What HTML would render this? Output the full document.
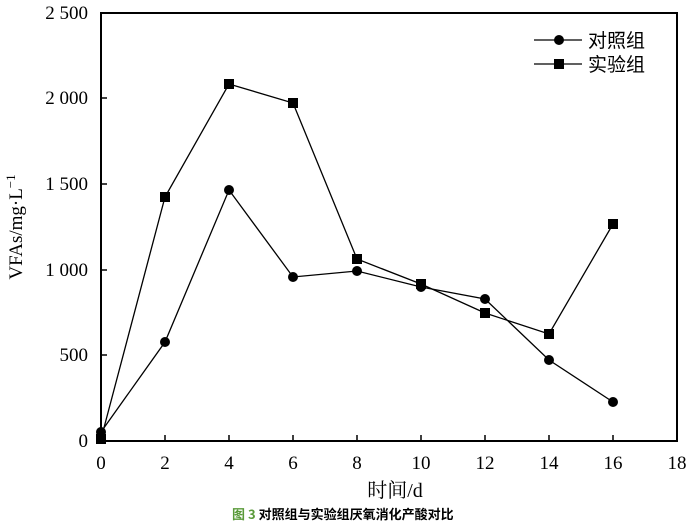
<!DOCTYPE html>
<html><head><meta charset="utf-8"><style>body{margin:0;background:#fff}</style></head><body>
<svg width="698" height="524" xmlns="http://www.w3.org/2000/svg" font-family="Liberation Serif, Noto Serif CJK SC, serif">
<rect x="101" y="13" width="576" height="428" fill="none" stroke="#000" stroke-width="2"/>
<g stroke="#000" stroke-width="1.5">
<line x1="165" y1="441" x2="165" y2="435"/><line x1="229" y1="441" x2="229" y2="435"/><line x1="293" y1="441" x2="293" y2="435"/><line x1="357" y1="441" x2="357" y2="435"/><line x1="421" y1="441" x2="421" y2="435"/><line x1="485" y1="441" x2="485" y2="435"/><line x1="549" y1="441" x2="549" y2="435"/><line x1="613" y1="441" x2="613" y2="435"/>
<line x1="101" y1="355" x2="107" y2="355"/><line x1="101" y1="270" x2="107" y2="270"/><line x1="101" y1="184" x2="107" y2="184"/><line x1="101" y1="98" x2="107" y2="98"/>
</g>
<g font-size="19" text-anchor="middle">
<text x="101" y="469">0</text><text x="165" y="469">2</text><text x="229" y="469">4</text><text x="293" y="469">6</text><text x="357" y="469">8</text><text x="421" y="469">10</text><text x="485" y="469">12</text><text x="549" y="469">14</text><text x="613" y="469">16</text><text x="677" y="469">18</text>
</g>
<g font-size="19" text-anchor="end">
<text x="88" y="447">0</text><text x="88" y="361">500</text><text x="88" y="276">1 000</text><text x="88" y="190">1 500</text><text x="88" y="104">2 000</text><text x="88" y="19">2 500</text>
</g>
<text x="395" y="497" font-size="20" text-anchor="middle">时间/d</text>
<text transform="translate(22,227) rotate(-90)" font-size="19" text-anchor="middle">VFAs/mg·L<tspan dy="-7" font-size="13">−1</tspan></text>
<polyline fill="none" stroke="#000" stroke-width="1.3" points="101,432 165,342 229,190 293,277 357,271 421,287 485,299 549,360 613,402"/>
<polyline fill="none" stroke="#000" stroke-width="1.3" points="101,439 165,197 229,84 293,103 357,259 421,284 485,313 549,334 613,224"/>
<g fill="#000">
<circle cx="101" cy="432" r="5"/><circle cx="165" cy="342" r="5"/><circle cx="229" cy="190" r="5"/><circle cx="293" cy="277" r="5"/><circle cx="357" cy="271" r="5"/><circle cx="421" cy="287" r="5"/><circle cx="485" cy="299" r="5"/><circle cx="549" cy="360" r="5"/><circle cx="613" cy="402" r="5"/>
<rect x="96" y="434" width="10" height="10"/><rect x="160" y="192" width="10" height="10"/><rect x="224" y="79" width="10" height="10"/><rect x="288" y="98" width="10" height="10"/><rect x="352" y="254" width="10" height="10"/><rect x="416" y="279" width="10" height="10"/><rect x="480" y="308" width="10" height="10"/><rect x="544" y="329" width="10" height="10"/><rect x="608" y="219" width="10" height="10"/>
<line x1="534" y1="40" x2="582" y2="40" stroke="#000" stroke-width="1.3"/><circle cx="559" cy="40" r="5"/>
<line x1="534" y1="64" x2="582" y2="64" stroke="#000" stroke-width="1.3"/><rect x="554" y="59" width="10" height="10"/>
</g>
<text x="588" y="47" font-size="19" font-family="Noto Sans CJK SC, sans-serif">对照组</text>
<text x="588" y="71" font-size="19" font-family="Noto Sans CJK SC, sans-serif">实验组</text>
<text x="232" y="519" font-size="13" font-weight="bold" font-family="Noto Sans CJK SC, sans-serif"><tspan fill="#5a9a3a">图 3</tspan> 对照组与实验组厌氧消化产酸对比</text>
</svg>
</body></html>
